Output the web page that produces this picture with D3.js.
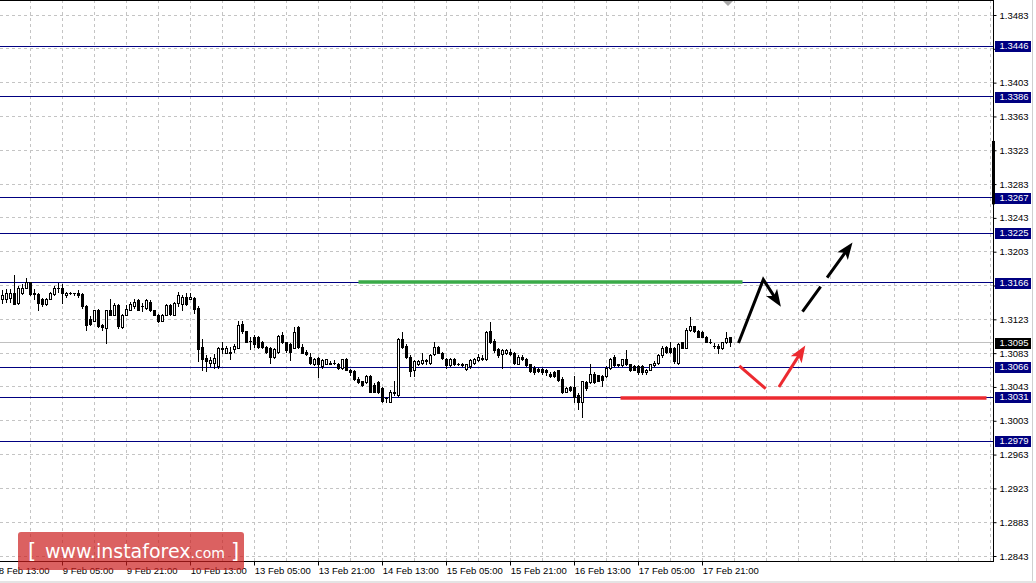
<!DOCTYPE html>
<html><head><meta charset="utf-8">
<script src="https://cdn.jsdelivr.net/npm/d3@7"></script>
<style>
html,body{margin:0;padding:0;background:#fff;}
svg{display:block;}
</style></head><body>
<svg id="chart" width="1036" height="583"></svg>
<script>
// ---- DATA (GBP/USD H1 candles, index 0 = leftmost visible bar) ----
const opens = [
1.3147,1.3146,1.3148,1.3154,1.3142,1.3154,1.3160,1.3166,1.3154,1.3152,
1.3146,1.3140,1.3147,1.3152,1.3159,1.3160,1.3151,1.3154,1.3154,1.3154,
1.3152,1.3138,1.3123,1.3121,1.3134,1.3116,1.3112,1.3133,1.3128,1.3139,
1.3113,1.3128,1.3134,1.3138,1.3145,1.3138,1.3136,1.3143,1.3133,1.3128,
1.3121,1.3128,1.3139,1.3128,1.3142,1.3140,1.3149,1.3147,1.3148,1.3136,
1.3090,1.3077,1.3071,1.3071,1.3067,1.3089,1.3083,1.3084,1.3087,1.3089,
1.3117,1.3108,1.3097,1.3102,1.3101,1.3095,1.3090,1.3089,1.3078,1.3084,
1.3104,1.3095,1.3093,1.3089,1.3113,1.3090,1.3084,1.3078,1.3069,1.3077,
1.3067,1.3070,1.3071,1.3071,1.3070,1.3065,1.3076,1.3063,1.3061,1.3052,
1.3049,1.3048,1.3055,1.3045,1.3048,1.3041,1.3029,1.3025,1.3037,1.3033,
1.3099,1.3091,1.3078,1.3063,1.3069,1.3071,1.3074,1.3071,1.3081,1.3090,
1.3083,1.3076,1.3068,1.3076,1.3070,1.3070,1.3064,1.3067,1.3071,1.3074,
1.3077,1.3075,1.3108,1.3097,1.3087,1.3081,1.3082,1.3084,1.3083,1.3070,
1.3078,1.3076,1.3069,1.3065,1.3064,1.3064,1.3063,1.3058,1.3060,1.3062,
1.3052,1.3037,1.3042,1.3042,1.3033,1.3025,1.3048,1.3048,1.3058,1.3056,
1.3055,1.3055,1.3065,1.3078,1.3069,1.3068,1.3076,1.3069,1.3067,1.3067,
1.3067,1.3060,1.3063,1.3068,1.3071,1.3080,1.3090,1.3089,1.3089,1.3071,
1.3095,1.3089,1.3110,1.3114,1.3109,1.3107,1.3102,1.3096,1.3091,1.3091,
1.3088,1.3095,1.3101];
const highs = [
1.3157,1.3158,1.3158,1.3175,1.3162,1.3164,1.3171,1.3167,1.3158,1.3153,
1.3148,1.3148,1.3155,1.3162,1.3165,1.3164,1.3155,1.3155,1.3154,1.3157,
1.3154,1.3139,1.3126,1.3134,1.3135,1.3117,1.3134,1.3147,1.3142,1.3140,
1.3129,1.3139,1.3143,1.3146,1.3146,1.3142,1.3146,1.3145,1.3134,1.3129,
1.3129,1.3140,1.3140,1.3143,1.3155,1.3151,1.3153,1.3154,1.3149,1.3138,
1.3099,1.3080,1.3078,1.3081,1.3090,1.3095,1.3091,1.3090,1.3093,1.3120,
1.3121,1.3109,1.3102,1.3104,1.3103,1.3097,1.3091,1.3090,1.3088,1.3104,
1.3107,1.3096,1.3094,1.3113,1.3114,1.3093,1.3086,1.3083,1.3077,1.3078,
1.3075,1.3076,1.3073,1.3074,1.3071,1.3076,1.3077,1.3064,1.3062,1.3054,
1.3050,1.3056,1.3056,1.3047,1.3049,1.3042,1.3031,1.3039,1.3049,1.3100,
1.3107,1.3093,1.3080,1.3074,1.3074,1.3083,1.3075,1.3081,1.3095,1.3091,
1.3084,1.3077,1.3077,1.3077,1.3071,1.3071,1.3070,1.3075,1.3077,1.3081,
1.3080,1.3109,1.3119,1.3099,1.3088,1.3087,1.3087,1.3087,1.3084,1.3080,
1.3080,1.3077,1.3070,1.3067,1.3065,1.3065,1.3064,1.3060,1.3061,1.3063,
1.3054,1.3042,1.3043,1.3055,1.3035,1.3050,1.3049,1.3069,1.3060,1.3057,
1.3056,1.3067,1.3077,1.3080,1.3070,1.3076,1.3086,1.3070,1.3068,1.3068,
1.3068,1.3064,1.3070,1.3073,1.3081,1.3091,1.3091,1.3096,1.3090,1.3094,
1.3096,1.3112,1.3125,1.3115,1.3110,1.3108,1.3103,1.3099,1.3094,1.3093,
1.3096,1.3107,1.3102];
const lows = [
1.3142,1.3143,1.3143,1.3140,1.3140,1.3152,1.3159,1.3151,1.3146,1.3134,
1.3138,1.3139,1.3146,1.3151,1.3155,1.3142,1.3149,1.3152,1.3151,1.3149,
1.3136,1.3110,1.3116,1.3120,1.3113,1.3110,1.3094,1.3127,1.3127,1.3112,
1.3112,1.3127,1.3133,1.3136,1.3133,1.3132,1.3135,1.3132,1.3127,1.3119,
1.3120,1.3127,1.3128,1.3127,1.3138,1.3134,1.3139,1.3146,1.3130,1.3073,
1.3063,1.3061,1.3067,1.3065,1.3065,1.3083,1.3082,1.3076,1.3084,1.3088,
1.3106,1.3095,1.3087,1.3090,1.3089,1.3088,1.3083,1.3071,1.3077,1.3083,
1.3094,1.3084,1.3074,1.3088,1.3089,1.3082,1.3080,1.3069,1.3068,1.3054,
1.3065,1.3069,1.3069,1.3069,1.3064,1.3064,1.3062,1.3057,1.3051,1.3047,
1.3043,1.3047,1.3036,1.3036,1.3035,1.3024,1.3025,1.3024,1.3033,1.3032,
1.3089,1.3077,1.3055,1.3055,1.3068,1.3070,1.3070,1.3070,1.3080,1.3082,
1.3076,1.3065,1.3067,1.3068,1.3068,1.3067,1.3063,1.3065,1.3070,1.3073,
1.3074,1.3074,1.3094,1.3084,1.3078,1.3065,1.3081,1.3080,1.3070,1.3069,
1.3074,1.3067,1.3060,1.3058,1.3060,1.3058,1.3057,1.3054,1.3054,1.3050,
1.3035,1.3036,1.3038,1.3025,1.3016,1.3007,1.3039,1.3047,1.3047,1.3049,
1.3043,1.3054,1.3064,1.3067,1.3067,1.3067,1.3068,1.3061,1.3062,1.3058,
1.3058,1.3058,1.3062,1.3067,1.3070,1.3078,1.3083,1.3083,1.3071,1.3070,
1.3088,1.3088,1.3109,1.3107,1.3101,1.3101,1.3095,1.3094,1.3089,1.3082,
1.3087,1.3094,1.3091];
const closes = [
1.3151,1.3154,1.3154,1.3141,1.3160,1.3159,1.3166,1.3152,1.3152,1.3142,
1.3140,1.3146,1.3153,1.3159,1.3159,1.3153,1.3154,1.3153,1.3154,1.3151,
1.3138,1.3116,1.3117,1.3133,1.3114,1.3113,1.3133,1.3128,1.3139,1.3114,
1.3128,1.3135,1.3140,1.3143,1.3134,1.3138,1.3145,1.3133,1.3128,1.3121,
1.3128,1.3139,1.3129,1.3142,1.3151,1.3149,1.3140,1.3149,1.3135,1.3087,
1.3075,1.3073,1.3074,1.3077,1.3088,1.3087,1.3089,1.3082,1.3091,1.3116,
1.3108,1.3096,1.3097,1.3093,1.3090,1.3090,1.3084,1.3078,1.3087,1.3103,
1.3095,1.3086,1.3084,1.3107,1.3090,1.3083,1.3081,1.3071,1.3076,1.3069,
1.3074,1.3075,1.3070,1.3071,1.3065,1.3075,1.3063,1.3060,1.3052,1.3048,
1.3045,1.3055,1.3037,1.3037,1.3037,1.3026,1.3029,1.3037,1.3035,1.3099,
1.3090,1.3078,1.3061,1.3073,1.3073,1.3074,1.3073,1.3080,1.3090,1.3083,
1.3077,1.3068,1.3076,1.3069,1.3069,1.3068,1.3069,1.3074,1.3076,1.3078,
1.3075,1.3107,1.3095,1.3086,1.3080,1.3086,1.3086,1.3081,1.3071,1.3078,
1.3076,1.3068,1.3061,1.3060,1.3061,1.3060,1.3060,1.3055,1.3055,1.3051,
1.3036,1.3041,1.3039,1.3030,1.3024,1.3049,1.3041,1.3058,1.3048,1.3050,
1.3051,1.3065,1.3076,1.3068,1.3068,1.3075,1.3069,1.3062,1.3063,1.3060,
1.3060,1.3063,1.3069,1.3071,1.3080,1.3089,1.3084,1.3084,1.3073,1.3093,
1.3089,1.3110,1.3115,1.3108,1.3102,1.3102,1.3096,1.3095,1.3091,1.3088,
1.3095,1.3100,1.3095];

const priceTicks = [1.3483,1.3443,1.3403,1.3363,1.3323,1.3283,1.3243,1.3203,1.3163,
                    1.3123,1.3083,1.3043,1.3003,1.2963,1.2923,1.2883,1.2843];
const timeLabels = ["8 Feb 13:00","9 Feb 05:00","9 Feb 21:00","10 Feb 13:00","13 Feb 05:00",
                    "13 Feb 21:00","14 Feb 13:00","15 Feb 05:00","15 Feb 21:00","16 Feb 13:00",
                    "17 Feb 05:00","17 Feb 21:00"];
const timeLabelBars = [-1,15,31,47,63,79,95,111,127,143,159,175];
const levelPrices = [1.3446,1.3386,1.3267,1.3225,1.3166,1.3066,1.3031,1.2979];
const bidPrice = 1.3095;
const scrollRange = [1.3334,1.3259];
// annotation lines: [bar index, price]
const greenLine = [[89,1.3167],[185,1.3167]];
const redLine = [[154.5,1.3030],[246,1.3030]];
const blackArrow = [[184,1.3095],[190.2,1.3170],[194.6,1.3138]];
const blackDashedArrow = [[200,1.3132],[212.5,1.3214]];
const redSegment = [[184.2,1.3068],[190.8,1.3041]];
const redArrow = [[194.1,1.3043],[200.7,1.3092]];

// ---- SCALES ----
const W = 1036, H = 583;
const axisX = 993.5, axisY = 561.5;
const x = d3.scaleLinear().domain([0,1]).range([2.5,6.5]);
const y = d3.scaleLinear().domain([1.2843,1.3483]).range([556,15]);
const snap = v => Math.round(v - 0.5) + 0.5;

const svg = d3.select("#chart");
const FONT = "'Liberation Sans', Arial, sans-serif";

svg.append("rect").attr("width",W).attr("height",H).attr("fill","#fff");

const plot = svg.append("g");
plot.append("clipPath").attr("id","clipP").append("rect")
  .attr("x",0).attr("y",0).attr("width",axisX).attr("height",axisY);

// grid
const gridCol = "#c4c4c4";
const vGrid = d3.range(7, 260, 8).filter(k => x(k) < axisX - 1);
plot.selectAll("line.vg").data(vGrid).join("line")
  .attr("x1",d=>snap(x(d))).attr("x2",d=>snap(x(d)))
  .attr("y1",0).attr("y2",axisY)
  .attr("stroke",gridCol).attr("stroke-dasharray","3,3");
plot.selectAll("line.hg").data(priceTicks).join("line")
  .attr("x1",0).attr("x2",axisX)
  .attr("y1",d=>snap(y(d))).attr("y2",d=>snap(y(d)))
  .attr("stroke",gridCol).attr("stroke-dasharray","3,3");

// bid line
plot.append("line").attr("x1",0).attr("x2",axisX)
  .attr("y1",snap(y(bidPrice))).attr("y2",snap(y(bidPrice)))
  .attr("stroke","#c0c0c0");

// level lines
plot.selectAll("line.lv").data(levelPrices).join("line")
  .attr("x1",0).attr("x2",axisX)
  .attr("y1",d=>snap(y(d))).attr("y2",d=>snap(y(d)))
  .attr("stroke","#000080");

// candles
const idx = d3.range(opens.length);
const cg = plot.append("g").attr("clip-path","url(#clipP)");
cg.selectAll("line.wick").data(idx).join("line")
  .attr("x1",i=>x(i)).attr("x2",i=>x(i))
  .attr("y1",i=>snap(y(highs[i]))-0.5).attr("y2",i=>snap(y(lows[i]))+0.5)
  .attr("stroke","#000");
idx.forEach(i=>{
  const yo = snap(y(opens[i])), yc = snap(y(closes[i]));
  if (yo === yc) {
    cg.append("line").attr("x1",x(i)-1.5).attr("x2",x(i)+1.5)
      .attr("y1",yo).attr("y2",yo).attr("stroke","#000");
  } else {
    const top = Math.min(yo,yc), bot = Math.max(yo,yc);
    cg.append("rect").attr("x",x(i)-1).attr("width",2)
      .attr("y",top).attr("height",bot-top)
      .attr("fill", closes[i] > opens[i] ? "#fff" : "#000")
      .attr("stroke","#000");
  }
});

// annotation lines
const lineGen = d3.line().x(d=>x(d[0])).y(d=>y(d[1]));
plot.append("path").attr("d",lineGen(greenLine)).attr("stroke","#3aaa48")
  .attr("stroke-width",3.5).attr("fill","none");
plot.append("path").attr("d",lineGen(redLine)).attr("stroke","#ec2a30")
  .attr("stroke-width",3.5).attr("fill","none");

function arrow(points, color, dash) {
  const px = points.map(d=>[x(d[0]), y(d[1])]);
  const n = px.length;
  const [ax,ay] = px[n-2], [bx,by] = px[n-1];
  const len = Math.hypot(bx-ax, by-ay);
  const ux = (bx-ax)/len, uy = (by-ay)/len;
  const L = 17, Wd = 6.5;
  const shaft = px.slice(0, n-1).concat([[bx-ux*L*0.6, by-uy*L*0.6]]);
  const p = plot.append("path").attr("d", d3.line()(shaft))
    .attr("stroke",color).attr("stroke-width",3).attr("fill","none")
    .attr("stroke-linejoin","miter");
  if (dash) p.attr("stroke-dasharray",dash);
  const bxL = bx-ux*L, byL = by-uy*L;
  plot.append("path").attr("d", d3.line()([[bx,by],[bxL - uy*Wd, byL + ux*Wd],[bx-ux*L*0.75, by-uy*L*0.75],[bxL + uy*Wd, byL - ux*Wd]]) + "Z")
    .attr("fill",color);
}
arrow(blackArrow, "#000", null);
arrow(blackDashedArrow, "#000", "31,11");
plot.append("path").attr("d",lineGen(redSegment)).attr("stroke","#ec2a30")
  .attr("stroke-width",3).attr("fill","none");
arrow(redArrow, "#ec2a30", null);

// shift marker triangle at top
svg.append("path").attr("d","M723,1 L733,1 L728,6 Z").attr("fill","#a8a8a8");

// top border
svg.append("line").attr("x1",0).attr("x2",axisX).attr("y1",0.5).attr("y2",0.5).attr("stroke","#000");

// ---- AXES ----
const yAxis = d3.axisRight(y).tickValues(priceTicks).tickFormat(d3.format(".4f"))
  .tickSize(3).tickPadding(3).tickSizeOuter(0);
const gy = svg.append("g").attr("transform",`translate(${axisX},0)`).call(yAxis);
gy.select(".domain").remove();
gy.selectAll(".tick line").attr("stroke","#000");
gy.selectAll(".tick text").attr("font-family",FONT).attr("font-size","9.5px").attr("fill","#000");
svg.append("line").attr("x1",axisX).attr("x2",axisX).attr("y1",0).attr("y2",axisY+0.5).attr("stroke","#000");
// scrollbar-like dark bar on axis
svg.append("rect").attr("x",axisX-1.5).attr("width",3)
  .attr("y",y(scrollRange[0])).attr("height",y(scrollRange[1])-y(scrollRange[0])).attr("fill","#000");

const xAxis = d3.axisBottom(x).tickValues(timeLabelBars).tickFormat((d,i)=>timeLabels[i])
  .tickSize(4).tickPadding(2).tickSizeOuter(0);
const gx = svg.append("g").attr("transform",`translate(-0.5,${axisY})`).call(xAxis);
gx.select(".domain").remove();
gx.selectAll(".tick line").attr("stroke","#000");
gx.selectAll(".tick text").attr("font-family",FONT).attr("font-size","9.5px")
  .attr("fill","#000").attr("text-anchor","start").attr("dx","0.3");
svg.append("line").attr("x1",0).attr("x2",axisX).attr("y1",axisY).attr("y2",axisY).attr("stroke","#000");

// level price boxes
const lbl = svg.append("g");
levelPrices.concat([bidPrice]).forEach(p=>{
  const yy = Math.round(y(p));
  lbl.append("rect").attr("x",995).attr("y",yy-5).attr("width",36).attr("height",11)
    .attr("fill", p === bidPrice ? "#000" : "#000080");
  lbl.append("text").attr("x",999.5).attr("y",yy).attr("dy","0.36em")
    .attr("font-family",FONT).attr("font-size","9.5px").attr("fill","#fff")
    .text(d3.format(".4f")(p));
});

// window edges
svg.append("line").attr("x1",1032.5).attr("x2",1032.5).attr("y1",0).attr("y2",581).attr("stroke","#d0d0d0");
svg.append("rect").attr("x",0).attr("y",581).attr("width",W).attr("height",2).attr("fill","#e4e4e4");

// logo
const logo = svg.append("g");
logo.append("rect").attr("x",18).attr("y",532).attr("width",226).attr("height",38).attr("rx",3)
  .attr("fill","rgb(204,30,30)").attr("opacity",0.7);
const lt = logo.append("text").attr("y",558).attr("fill","#fff").attr("font-family","'DejaVu Sans', Verdana, sans-serif");
lt.append("tspan").attr("x",28).attr("font-size","21px").text("[");
lt.append("tspan").attr("x",45).attr("font-size","19px").text("www.instaforex");
lt.append("tspan").attr("font-size","14px").text(".com");
lt.append("tspan").attr("x",231).attr("font-size","21px").text("]");
</script>
</body></html>
